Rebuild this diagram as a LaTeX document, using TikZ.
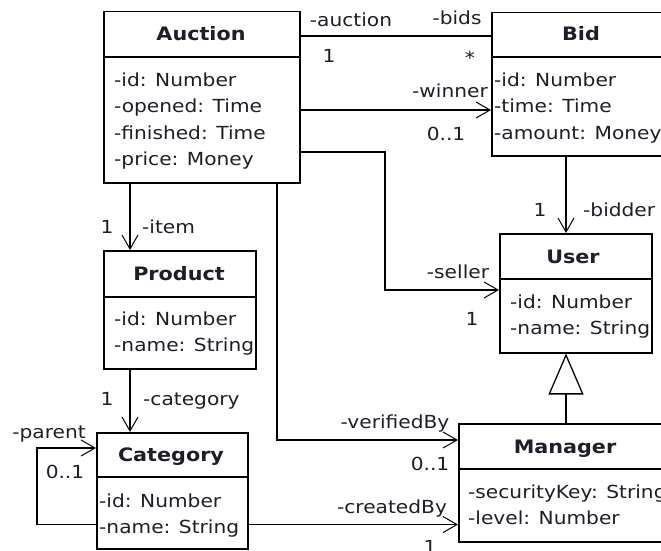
\documentclass[tikz,border=0pt]{standalone}
\usepackage{fontspec}
\setmainfont{DejaVu Sans}[FakeStretch=1.12]
\usetikzlibrary{arrows.meta}
\definecolor{txt}{RGB}{30,30,40}
\begin{document}
\begin{tikzpicture}[x=1pt,y=-1pt,
  cls/.style={draw, line width=1.5pt, fill=white, inner sep=0pt, anchor=north west},
  hdr/.style={line width=1.5pt},
  ttl/.style={anchor=base, inner sep=0pt, text=txt, font=\fontsize{18.5pt}{22pt}\selectfont\bfseries},
  attr/.style={anchor=base west, inner sep=0pt, text=txt, font=\fontsize{18pt}{22pt}\selectfont},
  lbl/.style={anchor=base, inner sep=0pt, text=txt, font=\fontsize{18pt}{22pt}\selectfont},
  line/.style={draw, line width=1.5pt},
  assoc/.style={line, -{Straight Barb[length=14pt,width=16pt,line width=1pt]}},
  gen/.style={line, -{Triangle[open,length=41pt,width=35pt,line width=1.3pt]}}
]
\useasboundingbox (0,0) rectangle (661,551);

% ---------- class boxes ----------
\node[cls, minimum width=196pt, minimum height=171pt] (auction) at (103,11) {};
\node[cls, minimum width=180pt, minimum height=143pt] (bid) at (491,12) {};
\node[cls, minimum width=152pt, minimum height=119pt] (user) at (499,233) {};
\node[cls, minimum width=152pt, minimum height=118pt] (product) at (103,250) {};
\node[cls, minimum width=151pt, minimum height=116pt] (category) at (96,432) {};
\node[cls, minimum width=214pt, minimum height=118pt] (manager) at (458,423) {};

% header separators
\draw[hdr] ([yshift=-46pt]auction.north west) -- ([yshift=-46pt]auction.north east);
\draw[hdr] ([yshift=-45pt]bid.north west) -- ([yshift=-45pt]bid.north east);
\draw[hdr] ([yshift=-46pt]user.north west) -- ([yshift=-46pt]user.north east);
\draw[hdr] ([yshift=-47pt]product.north west) -- ([yshift=-47pt]product.north east);
\draw[hdr] ([yshift=-45pt]category.north west) -- ([yshift=-45pt]category.north east);
\draw[hdr] ([yshift=-46pt]manager.north west) -- ([yshift=-46pt]manager.north east);

% titles
\node[ttl] (tAuction) at (201,41) {Auction};
\node[ttl] (tBid) at (581,41) {Bid};
\node[ttl] (tUser) at (573,263) {User};
\node[ttl] (tProduct) at (179,280) {Product};
\node[ttl] (tCategory) at (171,461) {Category};
\node[ttl] (tManager) at (565,453) {Manager};

% attributes
\node[attr] (a1) at (114,86) {-id: Number};
\node[attr] (a2) at (114,112.5) {-opened: Time};
\node[attr] (a3) at (114,139) {-finished: Time};
\node[attr] (a4) at (114,165.5) {-price: Money};

\node[attr] (b1) at (494,86) {-id: Number};
\node[attr] (b2) at (494,112.5) {-time: Time};
\node[attr] (b3) at (494,139) {-amount: Money};

\node[attr] (u1) at (510,308) {-id: Number};
\node[attr] (u2) at (510,334.5) {-name: String};

\node[attr] (p1) at (114,325) {-id: Number};
\node[attr] (p2) at (114,351.5) {-name: String};

\node[attr] (c1) at (99,507) {-id: Number};
\node[attr] (c2) at (99,533.5) {-name: String};

\node[attr] (m1) at (468,498) {-securityKey: String};
\node[attr] (m2) at (468,524.5) {-level: Number};

% ---------- connectors ----------
% Auction -- Bid (bids/auction)
\coordinate (ab) at ([yshift=-25pt]auction.north east);
\draw[line] (ab) -- (ab -| bid.west);
% winner
\coordinate (aw) at ([yshift=-99pt]auction.north east);
\draw[assoc] (aw) -- (aw -| bid.west);
% seller
\coordinate (as) at ([yshift=-141pt]auction.north east);
\coordinate (us) at ([yshift=-57pt]user.north west);
\coordinate (sx) at (385,0);
\draw[assoc] (as) -| (sx |- us) -- (us);
% item
\draw[assoc] ([xshift=27pt]auction.south west) -- ([xshift=27pt]product.north west);
% verifiedBy
\draw[assoc] ([xshift=174pt]auction.south west) |- ([yshift=-17pt]manager.north west);
% bidder
\coordinate (bx) at ([xshift=75pt]bid.south west);
\draw[assoc] (bx) -- (bx |- user.north);
% category
\draw[assoc] ([xshift=27pt]product.south west) -- ([xshift=34pt]category.north west);
% parent (self association)
\draw[assoc] ([yshift=25pt]category.south west) -- ++(-59,0) |- ([yshift=-16pt]category.north west);
% createdBy
\coordinate (cb) at ([yshift=25pt]category.south east);
\draw[assoc] (cb) -- (cb -| manager.west);
% generalization Manager -> User
\coordinate (g) at (566,0);
\draw[gen] (g |- manager.north) -- (g |- user.south);

% ---------- labels ----------
\node[lbl] (lAuction) at (351,27) {-auction};
\node[lbl] (lBids) at (457,25) {-bids};
\node[lbl] (mA1) at (329,63) {1};
\node[lbl] (mStar) at (470,65) {*};
\node[lbl] (lWinner) at (450,97) {-winner};
\node[lbl] (mW) at (446,140) {0..1};
\node[lbl] (mItem) at (107,233) {1};
\node[lbl, anchor=base west] (lItem) at (142,233) {-item};
\node[lbl] (mBidder) at (540,216) {1};
\node[lbl, anchor=base west] (lBidder) at (583,216) {-bidder};
\node[lbl] (lSeller) at (458,278) {-seller};
\node[lbl] (mSeller) at (472,325) {1};
\node[lbl] (mCat) at (107,405) {1};
\node[lbl, anchor=base west] (lCat) at (143,405) {-category};
\node[lbl] (lParent) at (49,438) {-parent};
\node[lbl] (mParent) at (65,478) {0..1};
\node[lbl] (lVer) at (395,428) {-verifiedBy};
\node[lbl] (mVer) at (430,470) {0..1};
\node[lbl] (lCre) at (392,513) {-createdBy};
\node[lbl] (mCre) at (430,553) {1};
\end{tikzpicture}
\end{document}
